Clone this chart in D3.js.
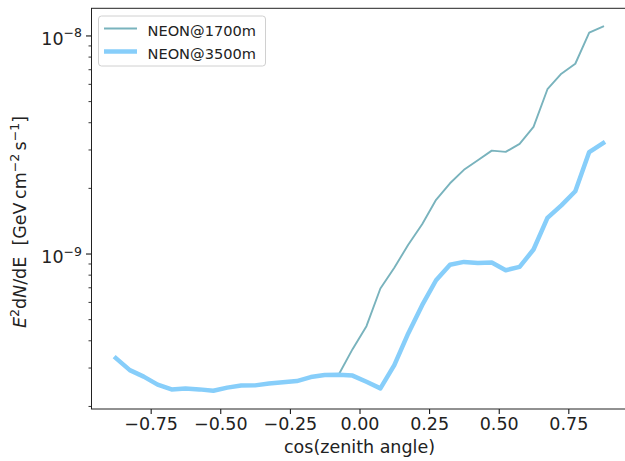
<!DOCTYPE html>
<html>
<head>
<meta charset="utf-8">
<script src="https://cdn.jsdelivr.net/npm/d3@7"></script>
<style>
  html, body { margin: 0; padding: 0; background: #fff; }
  svg { display: block; font-family: "DejaVu Sans", sans-serif; }
</style>
</head>
<body>
<svg id="chart" width="625" height="461"></svg>
<script>
// ---- data ----
const cosZenith = [
  -0.875, -0.825, -0.775, -0.725, -0.675, -0.625, -0.575, -0.525, -0.475, -0.425,
  -0.375, -0.325, -0.275, -0.225, -0.175, -0.125, -0.075, -0.025, 0.025, 0.075,
  0.125, 0.175, 0.225, 0.275, 0.325, 0.375, 0.425, 0.475, 0.525, 0.575,
  0.625, 0.675, 0.725, 0.775, 0.825, 0.875
];
const flux1700 = [
  3.315e-10, 2.92e-10, 2.726e-10, 2.506e-10, 2.382e-10, 2.407e-10, 2.382e-10, 2.347e-10, 2.427e-10, 2.48e-10,
  2.485e-10, 2.533e-10, 2.568e-10, 2.6e-10, 2.712e-10, 2.77e-10, 2.779e-10, 3.643e-10, 4.645e-10, 6.912e-10,
  8.607e-10, 1.097e-9, 1.362e-9, 1.763e-9, 2.099e-9, 2.42e-9, 2.676e-9, 2.963e-9, 2.925e-9, 3.184e-9,
  3.81e-9, 5.668e-9, 6.678e-9, 7.418e-9, 1.03e-8, 1.099e-8
];
const flux3500 = [
  3.315e-10, 2.92e-10, 2.726e-10, 2.506e-10, 2.382e-10, 2.407e-10, 2.382e-10, 2.347e-10, 2.427e-10, 2.48e-10,
  2.485e-10, 2.533e-10, 2.568e-10, 2.6e-10, 2.712e-10, 2.77e-10, 2.779e-10, 2.756e-10, 2.581e-10, 2.407e-10,
  3.078e-10, 4.3e-10, 5.797e-10, 7.54e-10, 8.886e-10, 9.152e-10, 9.056e-10, 9.095e-10, 8.384e-10, 8.681e-10,
  1.043e-9, 1.456e-9, 1.664e-9, 1.93e-9, 2.92e-9, 3.21e-9
];
const seriesNames = ["NEON@1700m", "NEON@3500m"];
const xTickValues = [-0.75, -0.5, -0.25, 0, 0.25, 0.5, 0.75];
const yMajorExponents = [-9, -8];
const xLabel = "cos(zenith angle)";

// ---- layout ----
const plot = { left: 91.5, right: 627.5, top: 8.3, bottom: 409 };
const colors = ["#79B3BD", "#87CEFA"];
const widths = [1.9, 4.5];
const tickFont = 17.5;

const svg = d3.select("#chart");

// x scale with matplotlib-like 5% margins
const xExt = d3.extent(cosZenith);
const xPad = (xExt[1] - xExt[0]) * 0.05;
const x = d3.scaleLinear().domain([xExt[0] - xPad, xExt[1] + xPad]).range([plot.left, plot.right]);

// y log scale with 5% margins in log space
const allY = flux1700.concat(flux3500);
const lyMin = Math.log10(d3.min(allY)), lyMax = Math.log10(d3.max(allY));
const lyPad = (lyMax - lyMin) * 0.05;
const y = d3.scaleLog().domain([Math.pow(10, lyMin - lyPad), Math.pow(10, lyMax + lyPad)]).range([plot.bottom, plot.top]);

// ---- lines ----
svg.append("clipPath").attr("id", "clip")
  .append("rect").attr("x", plot.left).attr("y", plot.top)
  .attr("width", plot.right - plot.left).attr("height", plot.bottom - plot.top);

const line = d3.line().x(d => x(d[0])).y(d => y(d[1]));
[flux1700, flux3500].forEach((vals, k) => {
  svg.append("path")
    .datum(cosZenith.map((c, i) => [c, vals[i]]))
    .attr("clip-path", "url(#clip)")
    .attr("fill", "none")
    .attr("stroke", colors[k])
    .attr("stroke-width", widths[k])
    .attr("stroke-linejoin", "round")
    .attr("stroke-linecap", "square")
    .attr("d", line);
});

// ---- axes ----
const xAxis = d3.axisBottom(x).tickValues(xTickValues).tickFormat(d3.format(".2f"))
  .tickSize(5).tickPadding(4);
const gx = svg.append("g").attr("transform", `translate(0,${plot.bottom})`).call(xAxis);
gx.select(".domain").remove();
gx.selectAll(".tick line").attr("stroke", "#000").attr("stroke-width", 1);
gx.selectAll(".tick text").attr("font-family", "DejaVu Sans").attr("font-size", tickFont)
  .attr("fill", "#222").attr("dy", "0.71em");

// y minor ticks
const [d0, d1] = y.domain();
const minorVals = [];
for (let e = Math.floor(Math.log10(d0)); e <= Math.ceil(Math.log10(d1)); e++) {
  for (let m = 2; m <= 9; m++) {
    const v = m * Math.pow(10, e);
    if (v >= d0 && v <= d1) minorVals.push(v);
  }
}
const gyMinor = svg.append("g").attr("transform", `translate(${plot.left},0)`)
  .call(d3.axisLeft(y).tickValues(minorVals).tickFormat("").tickSize(3));
gyMinor.select(".domain").remove();
gyMinor.selectAll(".tick line").attr("stroke", "#000").attr("stroke-width", 0.8);

const majorVals = yMajorExponents.map(e => Math.pow(10, e));
const gyMajor = svg.append("g").attr("transform", `translate(${plot.left},0)`)
  .call(d3.axisLeft(y).tickValues(majorVals).tickFormat("").tickSize(5.5));
gyMajor.select(".domain").remove();
gyMajor.selectAll(".tick line").attr("stroke", "#000").attr("stroke-width", 1);

// y major labels with superscripts
yMajorExponents.forEach(e => {
  const t = svg.append("text")
    .attr("x", plot.left - 9.5)
    .attr("y", y(Math.pow(10, e)) + 9.5)
    .attr("text-anchor", "end")
    .attr("font-size", tickFont)
    .attr("fill", "#222");
  t.append("tspan").text("10");
  t.append("tspan").attr("dy", -7.5).attr("font-size", 12.5).text("\u2212" + Math.abs(e));
});

// spines
svg.append("rect")
  .attr("x", plot.left).attr("y", plot.top)
  .attr("width", plot.right - plot.left).attr("height", plot.bottom - plot.top)
  .attr("fill", "none").attr("stroke", "#222").attr("stroke-width", 1);

// x label
svg.append("text")
  .attr("x", (plot.left + plot.right) / 2)
  .attr("y", 453)
  .attr("text-anchor", "middle")
  .attr("font-size", tickFont)
  .attr("fill", "#222")
  .text(xLabel);

// y label (mathtext-like)
const yl = svg.append("text")
  .attr("transform", `translate(25.5,222) rotate(-90)`)
  .attr("text-anchor", "middle")
  .attr("font-size", tickFont)
  .attr("fill", "#222")
  .style("white-space", "pre");
yl.append("tspan").attr("font-style", "italic").text("E");
yl.append("tspan").attr("dy", -7).attr("font-size", 12.5).text("2");
yl.append("tspan").attr("dy", 7).text("d");
yl.append("tspan").attr("font-style", "italic").text("N");
yl.append("tspan").text("/dE\u00a0\u00a0[GeV\u2009cm");
yl.append("tspan").attr("dy", -7).attr("font-size", 12.5).text("\u22122");
yl.append("tspan").attr("dy", 7).text("\u2009s");
yl.append("tspan").attr("dy", -7).attr("font-size", 12.5).text("\u22121");
yl.append("tspan").attr("dy", 7).text("]");

// ---- legend ----
const lg = svg.append("g");
lg.append("rect")
  .attr("x", 98.5).attr("y", 16).attr("width", 167).attr("height", 50)
  .attr("rx", 3).attr("fill", "#fff").attr("fill-opacity", 0.8)
  .attr("stroke", "#d0d0d0").attr("stroke-width", 1);
seriesNames.forEach((name, k) => {
  const ly = 28.5 + k * 23;
  lg.append("line")
    .attr("x1", 104).attr("x2", 137).attr("y1", ly).attr("y2", ly)
    .attr("stroke", colors[k]).attr("stroke-width", widths[k]);
  lg.append("text")
    .attr("x", 147.5).attr("y", ly + 7.8)
    .attr("font-size", 14.6).attr("fill", "#222")
    .text(name);
});
</script>
</body>
</html>
